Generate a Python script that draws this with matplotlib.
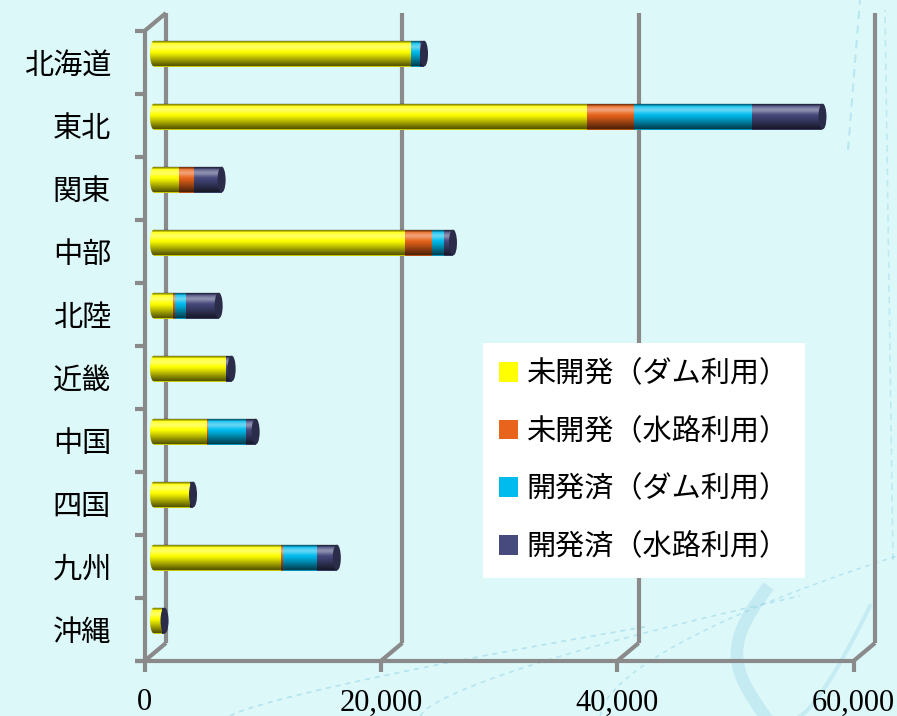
import numpy as np
import matplotlib
matplotlib.use("Agg")
import matplotlib.pyplot as plt
from matplotlib.patches import Ellipse, Polygon, Patch
from matplotlib.lines import Line2D

plt.rcParams['font.family'] = ['Noto Sans CJK JP', 'DejaVu Sans']

# 地域別の包蔵水力（4区分の積み上げ）
regions = ['北海道', '東北', '関東', '中部', '北陸', '近畿', '中国', '四国', '九州', '沖縄']
series = ['未開発（ダム利用）', '未開発（水路利用）', '開発済（ダム利用）', '開発済（水路利用）']
undev_dam = [21750, 36650, 2080, 21230, 1570, 6060, 4450, 3050, 10720, 640]
undev_canal = [0, 3980, 1270, 2290, 170, 0, 80, 0, 170, 0]
dev_dam = [800, 10010, 0, 1010, 1010, 0, 3220, 0, 2880, 0]
dev_canal = [300, 5930, 2370, 770, 2720, 510, 850, 250, 1700, 250]
xticks = [0, 20000, 40000, 60000]

colors = ['#ffff00', '#e8641c', '#00bcee', '#474a7c']
BG = '#ddf8f9'
GRID = '#8a8a8a'

W, H = 897, 716
fig = plt.figure(figsize=(W / 100, H / 100), dpi=100)
fig.patch.set_facecolor(BG)


# background swirls
def swirl(xs, ys, **kw):
    fig.add_artist(Line2D(np.asarray(xs) / W, 1 - np.asarray(ys) / H,
                          transform=fig.transFigure, zorder=0, **kw))


t = np.linspace(0, 1, 80)
swirl(230 + 420 * t, 716 - 90 * t ** 0.8, color='#8fd3e6', lw=1.2, ls=(0, (3, 3)), alpha=0.55)
swirl(420 + 380 * t, 716 - 120 * t ** 0.7, color='#8fd3e6', lw=1.2, ls=(0, (3, 3)), alpha=0.5)
swirl(600 + 297 * t, 716 - 160 * t ** 0.6, color='#8fd3e6', lw=1.1, ls=(0, (3, 3)), alpha=0.5)
swirl(765 - 28 * np.sin(np.pi * t), 716 - 125 * t, color='#8fd0e3', lw=9, alpha=0.3)
swirl(800 + 70 * t, 716 - 110 * t ** 1.3, color='#8fd3e6', lw=3, alpha=0.3)
swirl(848 + 12 * t, 150 - 150 * t, color='#8fd3e6', lw=1.5, ls=(0, (4, 3)), alpha=0.45)
swirl(893 - 8 * t, 560 - 550 * t, color='#8fd3e6', lw=1.2, ls=(0, (4, 3)), alpha=0.4)

# bars sit on the mid-depth plane of the 3D box
ax = fig.add_axes([154 / W, (H - 652) / H, 709 / W, 630 / H])
ax.set_facecolor('none')
for s in ax.spines.values():
    s.set_visible(False)

PX = 60000 / 709.0          # data units per pixel (x)
PY = 1 / 63.0               # data units per pixel (y)
BAR_H = 26 * PY
CAP = 4 * PX


def front(x, y):
    return x - 9.5 * PX, y + 9 * PY


def back(x, y):
    return x + 12 * PX, y - 9 * PY


def seg(p, q, **kw):
    ax.plot([p[0], q[0]], [p[1], q[1]], color=GRID, lw=3, clip_on=False,
            solid_capstyle='butt', zorder=1, **kw)


top, bottom = -0.5, 9.5
# left wall and back wall gridlines
seg(front(0, top), front(0, bottom))
seg(back(0, top), back(0, bottom))
seg(front(0, top), back(0, top))
for v in xticks:
    if v:
        seg(back(v, top), back(v, bottom))
    seg(back(v, bottom), front(v, bottom))
    fx, fy = front(v, bottom)
    seg((fx, fy), (fx, fy + 11 * PY))
    ax.text(fx, fy + 42 * PY, f'{v:,}', ha='center', va='center',
            fontsize=22, family='Liberation Serif', clip_on=False)
seg(front(-10 * PX, bottom), front(xticks[-1], bottom))
for k in range(11):
    y = top + k
    seg(front(-10 * PX, y), front(0, y))

# stacked cylinders
data = np.array([undev_dam, undev_canal, dev_dam, dev_canal], dtype=float)
lefts = np.vstack([np.zeros(len(regions)), np.cumsum(data, axis=0)[:-1]])
totals = data.sum(axis=0)
ypos = np.arange(len(regions))
for vals, left, c, name in zip(data, lefts, colors, series):
    ax.barh(ypos, vals, left=left, height=BAR_H, color=c, linewidth=0,
            zorder=3, label=name)

# cylinder shading: thin rim on top, light band, dark lower side
NS = 26
tt = (np.arange(NS) + 0.5) / NS
dark = np.where(tt < 0.06, 0.25, np.clip((tt - 0.42) / 0.58, 0, 1) ** 1.3 * 0.45)
lite = 0.22 * np.exp(-((tt - 0.24) / 0.12) ** 2)
strip_cols = [(0, 0, 0, a) if a > 0 else (1, 1, 1, l) for a, l in zip(dark, lite)]


def darker(c, f):
    return tuple(np.array(matplotlib.colors.to_rgb(c)) * f)


th = np.linspace(np.pi / 2, -np.pi / 2, 40)
for i, tot in enumerate(totals):
    first = colors[int(np.argmax(data[:, i] > 0))]
    last = colors[int(np.nonzero(data[:, i] > 0)[0][-1])]
    b = BAR_H / 2
    ax.add_patch(Ellipse((0, i), 2 * CAP, BAR_H, color=first, lw=0, zorder=3,
                         clip_on=False))
    right = np.column_stack([tot + CAP * np.cos(th), i - b * np.sin(th)])
    leftside = np.column_stack([-CAP * np.cos(th), i + b * np.sin(th)])
    capsule = Polygon(np.vstack([right, leftside]), closed=True,
                      transform=ax.transData, fill=False, lw=0)
    strips = ax.barh(i - b + tt * BAR_H, tot + 2 * CAP, left=-CAP,
                     height=BAR_H / NS * 1.02, color=strip_cols, linewidth=0,
                     zorder=3.5, antialiased=False)
    for r in strips:
        r.set_clip_path(capsule)
        r.set_clip_box(None)
    ax.add_patch(Ellipse((tot, i), 2 * CAP, BAR_H * 0.98,
                         color=darker(last, 0.6), lw=0, zorder=4))

ax.set_xlim(0, 60000)
ax.set_ylim(bottom, top)
ax.set_xticks([])
ax.set_yticks(ypos + 9 * PY, regions)
ax.tick_params(axis='y', length=0, pad=31, labelsize=21)

handles = [Patch(facecolor=c, edgecolor='none') for c in colors]
leg = ax.legend(handles, series, loc='upper left',
                bbox_to_anchor=(483 / W, 1 - 343 / H), bbox_transform=fig.transFigure,
                frameon=True, fancybox=False, facecolor='white', edgecolor='none',
                framealpha=1, fontsize=21, handlelength=0.65, handleheight=0.65,
                handletextpad=0.3, labelspacing=0.95, borderpad=0.55, borderaxespad=0)
leg.set_zorder(6)

fig.savefig('out.png', dpi=100, facecolor=BG)
